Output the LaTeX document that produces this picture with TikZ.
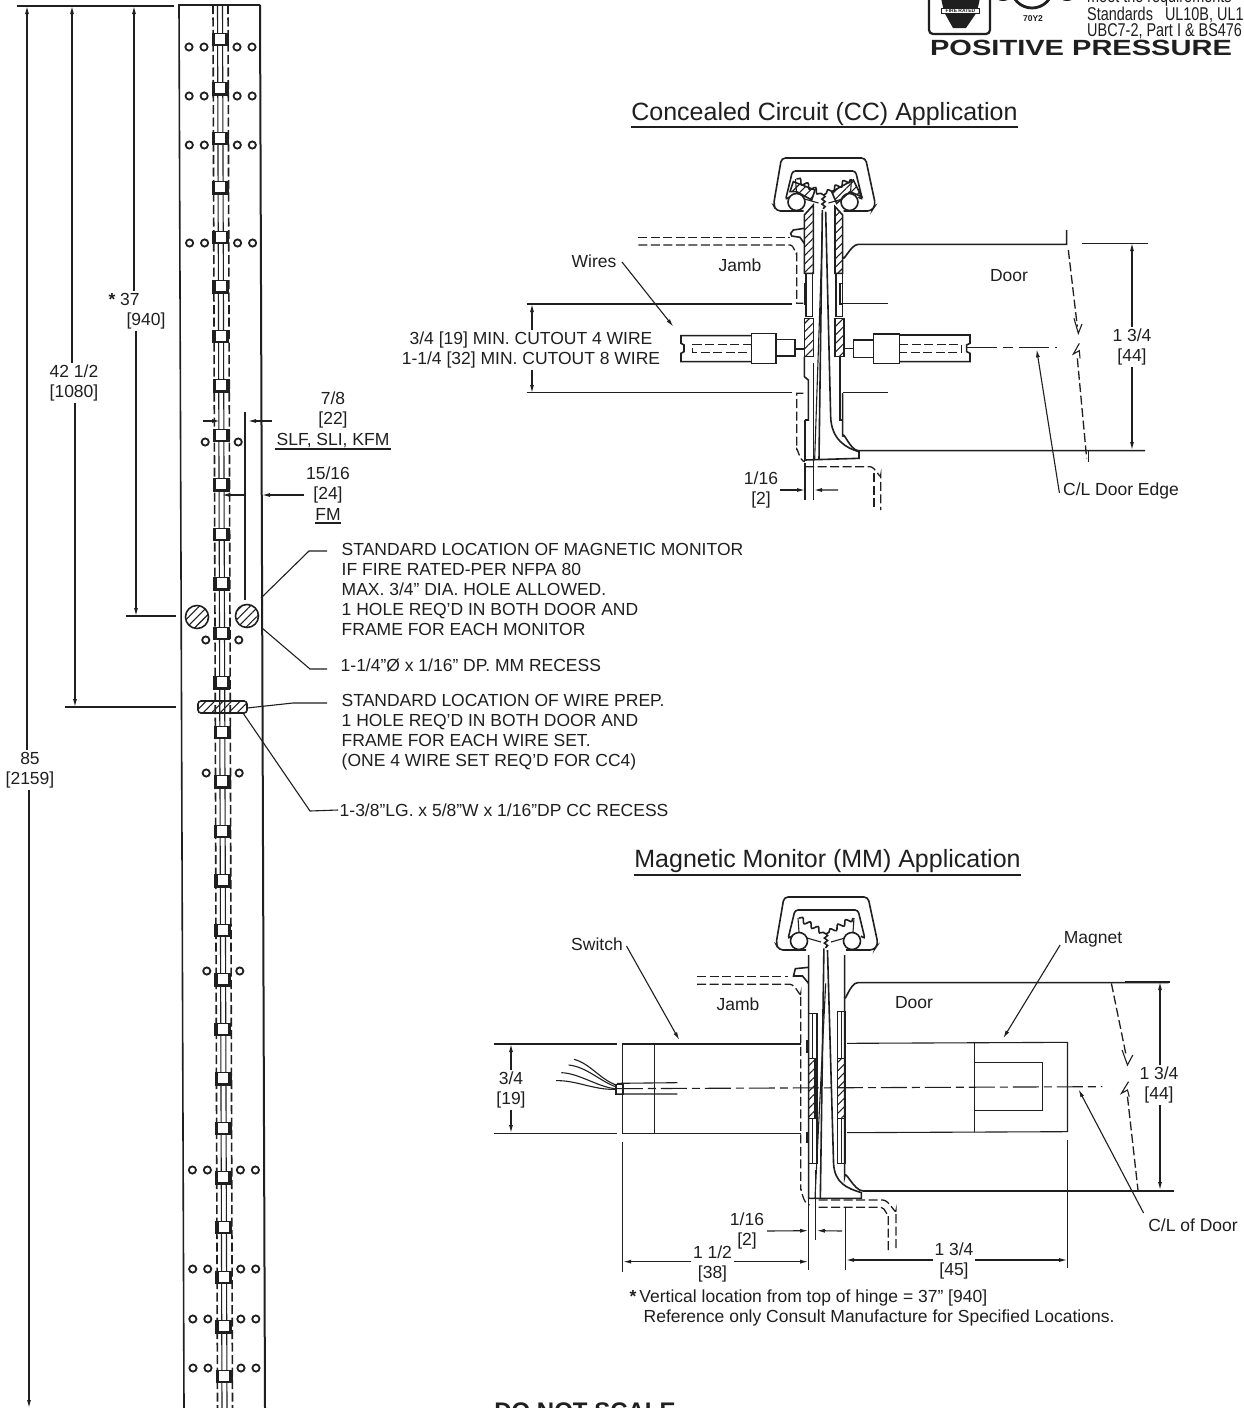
\documentclass[tikz,border=0pt]{standalone}
\usepackage{fontspec}
\setmainfont{Liberation Sans}
\newfontfamily\widefont[FakeStretch=1.32]{Liberation Sans}
\newfontfamily\slimfont[FakeStretch=0.78]{Liberation Sans}
\usetikzlibrary{arrows.meta, patterns.meta, decorations.pathmorphing}
\tikzset{>={Latex[length=8pt,width=4pt]}}
\colorlet{ink}{black!88}
\tikzset{
  line/.style={draw=ink, line width=1.1pt},
  heavy/.style={draw=ink, line width=1.6pt},
  hidden/.style={draw=ink, line width=1.3pt, dash pattern=on 9pt off 3.5pt},
  hatch/.style={heavy, pattern={Lines[angle=45, distance=6pt, line width=1.1pt]}, pattern color=ink},
  lbl/.style={text=ink, font=\fontsize{17.5}{20}\selectfont, inner sep=1.5pt, align=center},
  note/.style={lbl, align=left, anchor=west},
  title/.style={text=ink, font=\fontsize{25}{27}\selectfont, inner sep=1pt},
}
% cap of the hinge, centre x and top y
\newcommand{\hingecap}[2]{
  \begin{scope}[shift={(#1,#2)}]
    \draw[heavy, rounded corners=4pt] (-20,54) -- (-47,54) -- (-50,48) -- (-42,1) -- (42,1) -- (52,48) -- (48,54) -- (20,54);
    \draw[heavy, rounded corners=3pt] (-34,40) -- (-38,43) -- (-31,14) -- (32,14) -- (39,43) -- (35,40);
    \draw[heavy, fill=white] (-27,45) circle (8.5);
    \draw[heavy, fill=white] (26,45) circle (8.5);
    \draw[heavy, decorate, decoration={snake, amplitude=2.4pt, segment length=9pt}] (-27,22) -- (0,38);
    \draw[heavy, decorate, decoration={snake, amplitude=2.4pt, segment length=9pt}] (27,22) -- (0,38);
    \draw[heavy, decorate, decoration={snake, amplitude=1.6pt, segment length=5pt}] (0,38) -- (0,52);
    \draw[line] (-27,36) -- (-28,22) (27,36) -- (28,22) (-19,42) -- (-5,46) (19,42) -- (5,46);
  \end{scope}
}
\begin{document}
\begin{tikzpicture}[x=1pt, y=-1pt]
  \useasboundingbox (0,0) rectangle (1243,1408);
  \clip (0,0) rectangle (1243,1408);
  \fill[white] (0,0) rectangle (1243,1408);

  % long hinge
  \coordinate (htl) at (179,5);
  \coordinate (htr) at (260,5);
  \draw[heavy] (184,1408) -- (htl) -- (htr);
  \draw[draw=ink, line width=2pt] (htr) -- (265,1408);
  \draw[hidden, line width=1.6pt] (213,5) -- (217.5,1408) (228,5) -- (232.5,1408);
  \draw[line] (217.5,5) -- (222,1408) (222.5,5) -- (227,1408);
  \foreach \i in {0,...,27} {
    \pgfmathsetmacro{\kx}{220+4*\i/27}
    \pgfmathsetmacro{\ky}{39+49.52*\i}
    \fill[ink] (\kx-8.5,\ky-6.5) rectangle (\kx+8.5,\ky+7);
    \fill[white] (\kx-5,\ky-5.5) rectangle (\kx+5,\ky+4.5);
  }
  \foreach \hy in {47,96,145,243,1170,1269,1319,1368} {
    \pgfmathsetmacro{\dx}{(\hy-47)/1321*4}
    \foreach \hx in {189,204,237,252}
      \draw[draw=ink, line width=1.8pt, fill=white] (\hx+\dx,\hy) circle (3.6);
  }
  \foreach \hy in {442,640,773,971} {
    \pgfmathsetmacro{\dx}{(\hy-47)/1321*4}
    \foreach \hx in {204,237}
      \draw[draw=ink, line width=1.8pt, fill=white] (\hx+\dx,\hy) circle (3.6);
  }
  \draw[hatch] (197,617) circle (11.5);
  \draw[hatch] (247,616) circle (11.5);
  \draw[hatch, rounded corners=3pt] (198,701) rectangle (247,713);

  % heights on the left
  \coordinate (toplineL) at (17,6);
  \coordinate (toplineR) at (174,6);
  \draw[heavy] (toplineL) -- (toplineR);
  \node[lbl] (h85) at (30,770) {85\\{[2159]}};
  \node[lbl] (h42) at (74,383) {42 1/2\\{[1080]}};
  \node[lbl] (h37) at (132,311) {\textbf{*} 37\hspace*{0.9em}\\\hspace*{1.6em}{[940]}};
  \coordinate (h85t) at (27,6);
  \coordinate (h85b) at (29,1408);
  \coordinate (h42t) at (72,6);
  \coordinate (h42b) at (75,707);
  \coordinate (h37t) at (134,6);
  \coordinate (h37b) at (136,616);
  \draw[->, line] (h85.north -| h85t) -- (h85t);
  \draw[->, line] (h85.south -| h85b) -- (h85b);
  \draw[->, line] (h42.north -| h42t) -- (h42t);
  \draw[->, line] (h42.south -| h42b) -- (h42b);
  \draw[->, line] (h37.north -| h37t) -- (h37t);
  \draw[->, line] (h37.south -| h37b) -- (h37b);
  \draw[line] (65,707) -- (176,707) (126,616) -- (176,616);

  % hinge widths
  \node[lbl] (w78) at (333,420) {7/8\\{[22]}\\[1pt]SLF, SLI, KFM};
  \node[lbl] (w1516) at (328,494) {15/16\\{[24]}\\[1pt]FM};
  \draw[line] (275,449) -- (391,449) (315,523) -- (341,523);
  \coordinate (w78a) at (220,421);
  \coordinate (w78b) at (248,421);
  \coordinate (wbase) at (245,600);
  \draw[line] (245,412) -- (wbase);
  \draw[->, line] (203,421) -- (w78a);
  \draw[->, line] (272,421) -- (w78b);
  \draw[->, line] (245,495) -- (222,495);
  \draw[->, line] (w1516.west |- 0,495) -- (262,495);

  % notes beside the hinge
  \node[note] (nmag) at (340,589) {STANDARD LOCATION OF MAGNETIC MONITOR\\IF FIRE RATED-PER NFPA 80\\MAX. 3/4" DIA. HOLE ALLOWED.\\1 HOLE REQ'D IN BOTH DOOR AND\\FRAME FOR EACH MONITOR};
  \node[note] (nrec) at (339,665) {1-1/4"Ø x 1/16" DP. MM RECESS};
  \node[note] (nwire) at (340,732) {STANDARD LOCATION OF WIRE PREP.\\1 HOLE REQ'D IN BOTH DOOR AND\\FRAME FOR EACH WIRE SET.\\(ONE 4 WIRE SET REQ'D FOR CC4)};
  \node[note] (ncc) at (338,810) {1-3/8"LG. x 5/8"W x 1/16"DP CC RECESS};
  \draw[line] (327,551) -- (309,551) -- (261,598);
  \draw[line] (nrec.west) ++(-12,4) -- (310,669) -- (262,628);
  \draw[line] (327,703) -- (293,703) -- (247,708);
  \draw[line] (ncc.west) -- (310,811) -- (243,713);

  % logo and approvals, top right
  \draw[draw=ink, line width=2.2pt, rounded corners=4pt] (929,-12) rectangle (990,34);
  \fill[ink] (941,-2) -- (980,-2) -- (977,12) -- (966,28) -- (953,28) -- (944,12) -- cycle;
  \node[draw=ink, fill=white, text=ink, font=\fontsize{5}{5}\selectfont\bfseries, inner sep=0.8pt, minimum width=38pt] (fmtag) at (960.5,11) {FIRE RATED};
  \draw[draw=ink, line width=2.8pt] (1032,-13) circle (21);
  \fill[ink] (1003,-3) ellipse (7 and 4) (1067,-3) ellipse (7 and 4);
  \node[text=ink, font=\fontsize{8.5}{8.5}\selectfont\bfseries, inner sep=0] (ul) at (1033,19) {70Y2};
  \node[note, text=ink, font=\slimfont\fontsize{18.5}{16.5}\selectfont, inner sep=0] (ulstd) at (1087,14) {meet the requirements\\Standards \ \ UL10B, UL1\\UBC7-2, Part I \& BS476};
  \node[text=ink, font=\widefont\bfseries\fontsize{22}{22}\selectfont, inner sep=0] (pospress) at (1081,48) {POSITIVE PRESSURE};

  % concealed circuit section
  \node[title] (cctitle) at (824.5,114.5) {Concealed Circuit (CC) Application};
  \draw[line] (631,127) -- (1018,127);
  \hingecap{823.5}{157}
  \begin{scope}[shift={(620,150)}, scale=1/3]
    \draw[hatch] (510,125) -- (520,95) -- (585,120) -- (575,150) -- (530,125) -- cycle;
    \draw[hatch] (635,125) -- (700,90) -- (725,140) -- (690,125) -- (650,160) -- cycle;
    \draw[hatch] (553,195) -- (580,165) -- (580,370) -- (553,370) -- cycle;
    \draw[hatch] (645,170) -- (668,195) -- (668,370) -- (645,370) -- cycle;
    \draw[heavy] (558,370) rectangle (578,500) (648,370) rectangle (668,500);
    \draw[line] (553,400) rectangle (560,462) (660,400) rectangle (668,462);
    \draw[hatch] (553,505) rectangle (580,620);
    \draw[hatch] (645,505) rectangle (672,620);
    \draw[heavy] (553,620) -- (553,680) -- (565,690) -- (565,810) -- (555,810);
    \draw[heavy] (660,620) -- (660,810) -- (668,810) -- (668,730);
    \draw[heavy] (607,180) -- (597,928);
    \draw[line] (607,250) -- (584,928);
    \draw[heavy] (580,640) -- (580,1050);
    \draw[heavy] (617,185) -- (632,800) .. controls (634,870) and (680,895) .. (717,905) -- (717,925) -- (555,930) -- (555,810);
    % door
    \draw[heavy] (668,320) to[out=-90, in=180] (715,283) -- (1340,283) -- (1340,240);
    \draw[heavy] (668,730) -- (668,860) to[out=90, in=180] (715,902) -- (1575,902);
    \draw[heavy] (1405,902) -- (1405,935);
    \draw[heavy] (1385,280) -- (1585,280);
    \draw[hidden] (1345,300) -- (1372,530);
    \draw[line] (1362,505) -- (1375,550) -- (1386,522);
    \draw[line] (1378,580) -- (1360,612) -- (1378,602) -- (1380,625);
    \draw[hidden] (1372,625) -- (1400,925);
    % jamb
    \draw[hidden] (55,262) -- (510,262);
    \draw[hidden] (55,285) -- (510,285) to[out=0, in=-90] (530,310) -- (530,460) -- (550,460);
    \draw[heavy] (553,235) -- (520,240) -- (512,250) -- (515,258) -- (540,262) -- (553,280);
    \draw[hidden] (550,730) -- (530,730) -- (530,900) to[out=90, in=180] (555,935);
    \draw[hidden] (555,950) -- (750,950) to[out=0, in=-90] (782,975) -- (782,1080);
    \draw[hidden] (762,970) -- (762,1080);
    \draw[heavy] (555,940) -- (555,1050);
    % cut-out lines
    \draw[line] (-280,462) -- (515,462) (670,460) -- (805,460);
    \draw[line] (-280,728) -- (515,728) (670,728) -- (805,728);
    % wire sets
    \draw[heavy] (395,557) -- (183,557) -- (183,580) -- (192,585) -- (192,605) -- (183,610) -- (183,635) -- (395,635);
    \draw[heavy, fill=white] (395,550) rectangle (468,640);
    \draw[heavy, fill=white] (468,568) rectangle (525,618);
    \draw[line] (525,597) -- (553,597) (670,595) -- (700,595);
    \draw[heavy, fill=white] (700,570) rectangle (760,622);
    \draw[heavy, fill=white] (760,552) rectangle (838,640);
    \draw[heavy] (838,555) -- (1050,555) -- (1050,580) -- (1040,585) -- (1040,605) -- (1050,610) -- (1050,635) -- (838,635);
    \draw[hidden] (395,584) -- (218,584) -- (218,608) -- (395,608);
    \draw[hidden] (838,584) -- (1025,584) -- (1025,608) -- (838,608);
    \draw[line, dash pattern=on 30pt off 6pt on 10pt off 6pt] (1040,592) -- (1310,592);
    % leader ends
    \coordinate (ccwire) at (160,530);
    \coordinate (ccdoor) at (1250,598);
    \coordinate (cc16a) at (555,1020);
    \coordinate (cc16b) at (582,1020);
  \end{scope}
  \node[lbl] (cclblwires) at (594,261) {Wires};
  \node[lbl] (cclbljamb) at (740,265) {Jamb};
  \node[lbl] (cclbldoor) at (1009,276) {Door};
  \node[lbl] (cccut) at (531,350) {3/4 [19] MIN. CUTOUT 4 WIRE\\1-1/4 [32] MIN. CUTOUT 8 WIRE};
  \node[lbl] (cc134) at (1132,347) {1 3/4\\{[44]}};
  \node[lbl] (ccedge) at (1121,491) {C/L Door Edge};
  \node[lbl] (cc116) at (761,490) {1/16\\{[2]}};
  \draw[->, line] (622,262) -- (ccwire);
  \draw[->, line] (ccedge.west) ++(-2,2) -- (ccdoor);
  \draw[->, line] (cc116.east |- cc16a) -- (cc16a);
  \draw[->, line] (838,490) -- (cc16b);
  \coordinate (cc34a) at (532,304);
  \coordinate (cc34b) at (532,393);
  \coordinate (cc134a) at (1132,243);
  \coordinate (cc134b) at (1132,450);
  \draw[->, line] (cccut.north -| cc34a) -- (cc34a);
  \draw[->, line] (cccut.south -| cc34b) -- (cc34b);
  \draw[->, line] (cc134.north -| cc134a) -- (cc134a);
  \draw[->, line] (cc134.south -| cc134b) -- (cc134b);

  % magnetic monitor section
  \node[title] (mmtitle) at (827.5,861.5) {Magnetic Monitor (MM) Application};
  \draw[line] (634,875) -- (1021,875);
  \hingecap{826}{896}
  \begin{scope}[shift={(540,890)}, xscale=1/2.8, yscale=1/3]
    \draw[heavy] (752,195) -- (752,925) -- (900,925) -- (900,908) .. controls (860,895) and (825,880) .. (822,820) -- (805,180);
    \draw[heavy] (795,175) -- (785,925);
    \draw[line] (800,280) -- (770,925);
    \draw[heavy] (752,232) -- (715,236) -- (710,258) -- (735,258) -- (752,280);
    \draw[heavy] (752,370) rectangle (775,820);
    \draw[heavy] (833,365) rectangle (855,820);
    \draw[hatch] (752,505) rectangle (770,685);
    \draw[hatch] (833,505) rectangle (855,685);
    \draw[line] (763,370) -- (763,505) (763,685) -- (763,820) (845,365) -- (845,505) (845,685) -- (845,820);
    \draw[draw=ink, line width=2pt] (749,450) -- (749,490) (749,725) -- (749,760);
    \draw[heavy] (853,195) -- (853,860) to[out=90, in=180] (905,903) -- (1775,903);
    \draw[heavy] (853,320) to[out=-90, in=180] (890,278) -- (1760,278);
    % jamb
    \draw[hidden] (440,260) -- (695,260);
    \draw[hidden] (440,283) -- (700,283) to[out=0, in=-90] (730,310) -- (730,900) to[out=90, in=180] (755,945);
    \draw[hidden] (780,930) -- (960,930) to[out=0, in=-90] (997,960) -- (997,1080);
    \draw[hidden] (780,952) -- (955,952) to[out=0, in=-90] (975,975) -- (975,1080);
    % door edge
    \draw[hidden] (1600,280) -- (1642,500);
    \draw[line] (1630,480) -- (1645,525) -- (1660,495);
    \draw[line] (1648,575) -- (1628,610) -- (1645,600) -- (1650,620);
    \draw[hidden] (1645,620) -- (1675,905);
    % switch and magnet
    \draw[line] (-128,462) -- (215,462) (-128,730) -- (215,730);
    \draw[line] (730,462) -- (232,462) -- (232,730) -- (730,730);
    \draw[line] (320,462) -- (320,730);
    \draw[line] (860,460) -- (1477,457) -- (1477,725) -- (860,728);
    \draw[line] (1217,460) -- (1217,725);
    \draw[line] (1217,518) -- (1407,518) -- (1407,662) -- (1217,662);
    \draw[line] (215,580) -- (385,578) (215,612) -- (385,612);
    \draw[heavy] (213,584) rectangle (232,614);
    \draw[line, dash pattern=on 26pt off 5pt on 8pt off 5pt] (215,596) -- (1575,590);
    \draw[line] (210,598) .. controls (150,600) and (100,570) .. (45,572);
    \draw[line] (210,596) .. controls (160,590) and (110,550) .. (60,548);
    \draw[line] (212,590) .. controls (170,575) and (130,530) .. (80,525);
    \draw[line] (214,585) .. controls (170,570) and (140,520) .. (95,508);
    % extension lines
    \draw[line] (232,755) -- (232,1145) (752,925) -- (752,1140) (855,950) -- (855,1140) (1477,750) -- (1477,1135);
    \draw[line] (772,840) -- (772,1050);
    \coordinate (mmsw) at (390,450);
    \coordinate (mmmag) at (1297,445);
    \coordinate (mmdoor) at (1508,598);
    \coordinate (mm16a) at (751,1022);
    \coordinate (mm16b) at (775,1022);
    \coordinate (mm112a) at (233,1115);
    \coordinate (mm112b) at (751,1115);
    \coordinate (mm134a) at (857,1110);
    \coordinate (mm134e) at (1476,1110);
  \end{scope}
  \node[lbl] (mmlblsw) at (597,944) {Switch};
  \node[lbl] (mmlblmag) at (1093,939) {Magnet};
  \node[lbl] (mmlbljamb) at (738,1004) {Jamb};
  \node[lbl] (mmlbldoor) at (914,1003) {Door};
  \node[lbl] (mm34) at (511,1090) {3/4\\{[19]}};
  \node[lbl] (mm134) at (1159,1085) {1 3/4\\{[44]}};
  \node[lbl] (mmcl) at (1193,1225) {C/L of Door};
  \node[lbl] (mm116) at (747,1231) {1/16\\{[2]}};
  \node[lbl] (mm112) at (712.5,1264) {1 1/2\\{[38]}};
  \node[lbl] (mm134b) at (954,1261) {1 3/4\\{[45]}};
  \draw[->, line] (mmlblsw.east) ++(2,2) -- (mmsw);
  \draw[->, line] (mmlblmag.west) ++(-2,6) -- (mmmag);
  \draw[->, line] (mmcl.west) ++(-3,-12) -- (mmdoor);
  \draw[->, line] (767,1231) -- (mm16a);
  \draw[->, line] (842,1231) -- (mm16b);
  \draw[->, line] (mm112.west |- mm112a) -- (mm112a);
  \draw[->, line] (mm112.east |- mm112b) -- (mm112b);
  \draw[->, line] (mm134b.west |- mm134a) -- (mm134a);
  \draw[->, line] (mm134b.east |- mm134e) -- (mm134e);
  \coordinate (mm34a) at (511,1044);
  \coordinate (mm34b) at (511,1133);
  \coordinate (mm134c) at (1160,982);
  \coordinate (mm134d) at (1160,1190);
  \draw[line] (1125,982) -- (1170,982);
  \draw[->, line] (mm34.north -| mm34a) -- (mm34a);
  \draw[->, line] (mm34.south -| mm34b) -- (mm34b);
  \draw[->, line] (mm134.north -| mm134c) -- (mm134c);
  \draw[->, line] (mm134.south -| mm134d) -- (mm134d);

  % footnote
  \node[note] (fnstar) at (628,1298) {\textbf{*}\,Vertical location from top of hinge = 37" [940]};
  \node[note] (fnref) at (642,1318) {Reference only Consult Manufacture for Specified Locations.};
  \node[text=ink, font=\bfseries\fontsize{24}{24}\selectfont, inner sep=0] (noscale) at (585,1411) {DO NOT SCALE};
\end{tikzpicture}
\end{document}
